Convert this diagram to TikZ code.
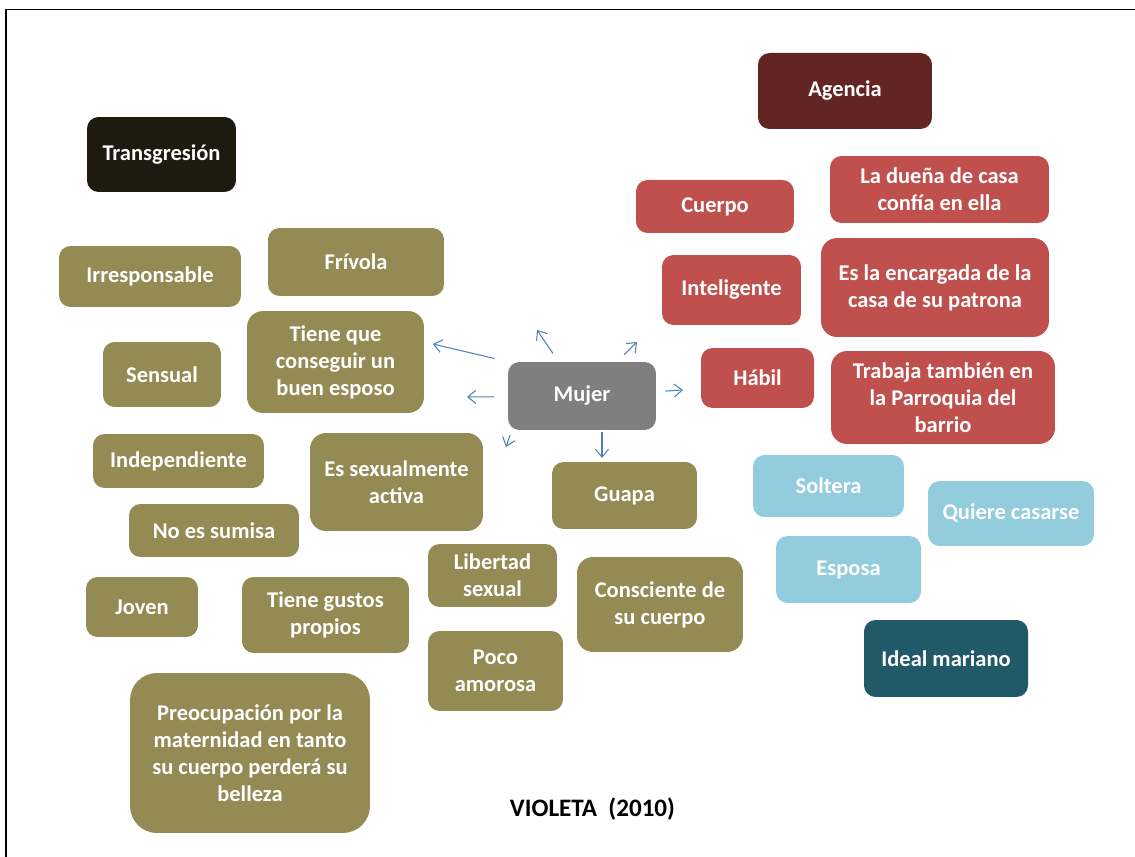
\documentclass[tikz,border=0pt]{standalone}
\usepackage{fontspec}
\setmainfont{Carlito}
\usetikzlibrary{arrows.meta}
\definecolor{OliveFill}{HTML}{948A54}
\definecolor{BrickRed}{HTML}{C0504D}
\definecolor{DeepMaroon}{HTML}{632523}
\definecolor{NearBlack}{HTML}{1D1B10}
\definecolor{MidGray}{HTML}{7F7F7F}
\definecolor{SoftSky}{HTML}{93CDDD}
\definecolor{DeepTeal}{HTML}{215968}
\definecolor{LinkBlue}{HTML}{4F81BD}
\tikzset{
  box/.style={rounded corners=0.23cm,text=white,align=center,inner sep=2pt,
    font=\fontsize{12.8}{15.3}\selectfont\bfseries},
  olivebox/.style={box,fill=OliveFill},
  redbox/.style={box,fill=BrickRed},
  skybox/.style={box,fill=SoftSky},
  centerbox/.style={box,fill=MidGray},
  big/.style={rounded corners=0.32cm},
  arrow/.style={-{Straight Barb[length=0.16cm,width=0.26cm]},draw=LinkBlue,
    line width=0.6pt}
}

\begin{document}
\begin{tikzpicture}[x=0.02cm,y=-0.02cm]
  \useasboundingbox (0,0) rectangle (1135,857);
  \draw[line width=1.1pt] (6,857) -- (6,9.5) -- (1135,9.5);

  % headings
  \node[box,fill=NearBlack,minimum width=2.98cm,minimum height=1.50cm] (transgresion) at (161.5,154.5) {Transgresión};
  \node[box,fill=DeepMaroon,minimum width=3.48cm,minimum height=1.52cm] (agencia) at (845,91) {Agencia};
  \node[box,fill=DeepTeal,minimum width=3.28cm,minimum height=1.54cm] (ideal) at (946,658.5) {Ideal mariano};

  % centre
  \node[centerbox,minimum width=2.96cm,minimum height=1.36cm] (mujer) at (582,396) {Mujer};

  % agencia
  \node[redbox,minimum width=3.16cm,minimum height=1.06cm] (cuerpo) at (715,206.5) {Cuerpo};
  \node[redbox,minimum width=4.38cm,minimum height=1.34cm] (duena) at (939.5,189.5) {La dueña de casa\\confía en ella};
  \node[redbox,minimum width=2.78cm,minimum height=1.40cm] (inteligente) at (731.5,290) {Inteligente};
  \node[redbox,big,minimum width=4.56cm,minimum height=1.98cm] (encargada) at (935,287.5) {Es la encargada de la\\casa de su patrona};
  \node[redbox,minimum width=2.26cm,minimum height=1.20cm] (habil) at (757.5,378) {Hábil};
  \node[redbox,big,minimum width=4.48cm,minimum height=1.86cm] (trabaja) at (943,397.5) {Trabaja también en\\la Parroquia del\\barrio};

  % transgresion
  \node[olivebox,minimum width=3.64cm,minimum height=1.22cm] (irresponsable) at (150,276.5) {Irresponsable};
  \node[olivebox,minimum width=3.52cm,minimum height=1.36cm] (frivola) at (356,262) {Frívola};
  \node[olivebox,big,minimum width=3.54cm,minimum height=2.04cm] (esposo) at (335.5,362) {Tiene que\\conseguir un\\buen esposo};
  \node[olivebox,minimum width=2.36cm,minimum height=1.30cm] (sensual) at (162,374.5) {Sensual};
  \node[olivebox,minimum width=3.42cm,minimum height=1.08cm] (independiente) at (178.5,461) {Independiente};
  \node[olivebox,minimum width=3.40cm,minimum height=1.06cm] (sumisa) at (214,530.5) {No es sumisa};
  \node[olivebox,big,minimum width=3.46cm,minimum height=1.96cm] (activa) at (396.5,482) {Es sexualmente\\activa};
  \node[olivebox,minimum width=2.90cm,minimum height=1.34cm] (guapa) at (624.5,495.5) {Guapa};
  \node[olivebox,minimum width=2.58cm,minimum height=1.26cm] (libertad) at (492.5,575.5) {Libertad\\sexual};
  \node[olivebox,minimum width=2.70cm,minimum height=1.60cm] (amorosa) at (495.5,671) {Poco\\amorosa};
  \node[olivebox,big,minimum width=3.32cm,minimum height=1.90cm] (consciente) at (660,604.5) {Consciente de\\su cuerpo};
  \node[olivebox,minimum width=2.24cm,minimum height=1.20cm] (joven) at (142,607) {Joven};
  \node[olivebox,minimum width=3.34cm,minimum height=1.52cm] (gustos) at (325.5,615) {Tiene gustos\\propios};
  \node[olivebox,rounded corners=0.54cm,minimum width=4.80cm,minimum height=3.20cm] (maternidad) at (250,753) {Preocupación por la\\maternidad en tanto\\su cuerpo perderá su\\belleza};

  % ideal mariano
  \node[skybox,minimum width=3.02cm,minimum height=1.24cm] (soltera) at (828.5,486) {Soltera};
  \node[skybox,minimum width=3.32cm,minimum height=1.30cm] (casarse) at (1011,513.5) {Quiere casarse};
  \node[skybox,minimum width=2.90cm,minimum height=1.34cm] (esposa) at (848.5,569.5) {Esposa};

  \node[font=\fontsize{14.3}{17}\selectfont\bfseries] (violeta) at (592.5,809) {VIOLETA\ \ (2010)};

  % arrows out of the centre
  \coordinate (tipnw) at (537,330);
  \coordinate (tipne) at (637,342);
  \coordinate (tipw) at (467,397);
  \coordinate (tipe) at (683,390);
  \coordinate (tips) at (602,458);
  \coordinate (tipsw) at (506,447);
  \coordinate (tipfar) at (433,344);
  \draw[arrow,shorten <=0.2cm] (mujer) -- (tipnw);
  \draw[arrow,shorten <=0.2cm] (mujer) -- (tipne);
  \draw[arrow,shorten <=0.28cm] (mujer) -- (tipw);
  \draw[arrow,shorten <=0.18cm] (mujer) -- (tipe);
  \draw[arrow,shorten <=0.04cm] (mujer.south -| tips) -- (tips);
  \draw[arrow,shorten <=0.1cm] ([xshift=0.08cm]mujer.south west) -- (tipsw);
  \draw[arrow,shorten <=0.27cm] (mujer.north west) -- (tipfar);
\end{tikzpicture}
\end{document}
